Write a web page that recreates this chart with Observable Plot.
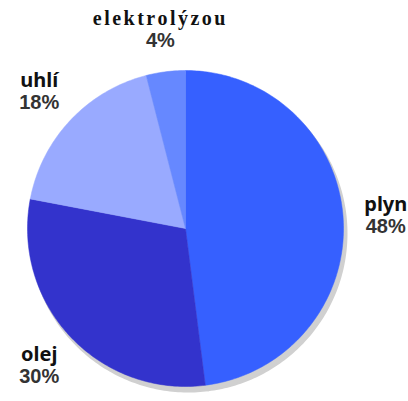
<!DOCTYPE html>
<html>
<head>
<meta charset="utf-8">
<script src="https://cdn.jsdelivr.net/npm/d3@7"></script>
<script src="https://cdn.jsdelivr.net/npm/@observablehq/plot@0.6"></script>
<style>
  html, body { margin: 0; padding: 0; background: #ffffff; }
</style>
</head>
<body>
<div id="chart"></div>
<script>
const categories = ["plyn", "olej", "uhlí", "elektrolýzou"];
const shares = [48, 30, 18, 4];
const percentLabels = ["48%", "30%", "18%", "4%"];
const colors = ["#3660ff", "#3333cc", "#99aaff", "#6688ff"];

// Build slice outlines (unit circle, clockwise from 12 o'clock) from the shares
const total = d3.sum(shares);
const pts = [];
const labels = [];
let acc = 0;
categories.forEach((cat, i) => {
  const a0 = acc / total * 2 * Math.PI;
  acc += shares[i];
  const a1 = acc / total * 2 * Math.PI;
  pts.push({cat, x: 0, y: 0});
  const n = Math.max(2, Math.ceil((a1 - a0) / (Math.PI / 180)));
  for (let k = 0; k <= n; k++) {
    const a = a0 + (a1 - a0) * k / n;
    pts.push({cat, x: Math.sin(a), y: Math.cos(a)});
  }
  pts.push({cat, x: 0, y: 0});
  const am = (a0 + a1) / 2;
  labels.push({cat, pct: percentLabels[i], x: 1.27 * Math.sin(am), y: 1.27 * Math.cos(am)});
});

const chart = Plot.plot({
  width: 408,
  height: 401,
  margin: 0,
  x: {domain: [-1, 1], range: [27, 343], axis: null},
  y: {domain: [-1, 1], range: [386, 70], axis: null},
  color: {domain: categories, range: colors},
  marks: [
    Plot.line(pts, {x: "x", y: "y", z: "cat", fill: "#d0d0d0", stroke: "#d0d0d0", strokeWidth: 2, dx: 3, dy: 5}),
    Plot.line(pts, {x: "x", y: "y", z: "cat", fill: "cat", stroke: "cat", strokeWidth: 0.5}),
    Plot.text(labels, {x: "x", y: "y", text: "cat", dy: -11, fontSize: 20, fontWeight: "bold",
      fontFamily: d => d.cat === "elektrolýzou" ? "Liberation Serif" : "Liberation Sans", fill: "#111"}),
    Plot.text(labels, {x: "x", y: "y", text: "pct", dy: 11, fontSize: 20, fontWeight: "bold",
      fontFamily: "Liberation Sans", fill: "#333"})
  ]
});
document.getElementById("chart").appendChild(chart);
d3.select(chart).selectAll("text").filter(function() { return this.textContent === "elektrolýzou"; })
  .style("letter-spacing", "2.5px").style("font-family", "Liberation Serif");
</script>
</body>
</html>
